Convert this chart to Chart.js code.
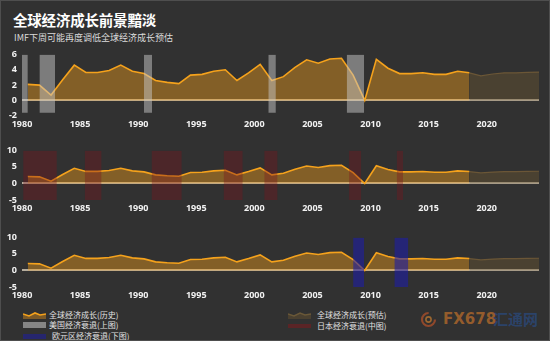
<!DOCTYPE html>
<html>
<head>
<meta charset="utf-8">
<script src="https://cdn.jsdelivr.net/npm/chart.js@4.4.1/dist/chart.umd.min.js"></script>
<style>
  html, body { margin: 0; padding: 0; background: #313131; }
  #wrap { position: relative; width: 550px; height: 341px; background: #313131;
          border: 1px solid #4e4e4e; box-sizing: border-box; overflow: hidden;
          font-family: "Noto Sans CJK SC", "Noto Sans", sans-serif; }
  canvas { position: absolute; left: -1px; }
  .title { position: absolute; left: 12px; top: 8px; font-size: 14.5px; font-weight: bold; color: #ffffff; letter-spacing: -0.2px; }
  .sub { position: absolute; left: 13px; top: 30px; font-size: 9px; color: #dcdcdc; }
  .lg { position: absolute; font-size: 8px; color: #e0e0e0; line-height: 10px; white-space: nowrap; }
  .sw { position: absolute; }
  .wm { position: absolute; top: 309px; font-weight: bold; font-size: 16px; line-height: 18px; white-space: nowrap; }
</style>
</head>
<body>
<div id="wrap">
  <div class="title">全球经济成长前景黯淡</div>
  <div class="sub">IMF下周可能再度调低全球经济成长预估</div>
  <canvas id="c1" width="550" height="90" style="top:43px"></canvas>
  <canvas id="c2" width="550" height="76" style="top:139px"></canvas>
  <canvas id="c3" width="550" height="76" style="top:226px"></canvas>

  <!-- legend -->
  <svg class="sw" style="left:22px;top:310px" width="23" height="8">
    <polygon points="0,3 6,5 12,2 17,4 23,3 23,8 0,8" fill="#7d5a27"/>
    <polyline points="0,3 6,5 12,2 17,4 23,3" fill="none" stroke="#f5a21c" stroke-width="1.6"/>
  </svg>
  <div class="lg" style="left:48px;top:309px">全球经济成长(历史)</div>
  <div class="sw" style="left:22px;top:321px;width:23px;height:6px;background:#858585"></div>
  <div class="lg" style="left:48px;top:319px">美国经济衰退(上图)</div>
  <div class="sw" style="left:22px;top:333px;width:23px;height:5px;background:#26266e"></div>
  <div class="lg" style="left:51px;top:330px">欧元区经济衰退(下图)</div>

  <svg class="sw" style="left:287px;top:311px" width="23" height="7">
    <polygon points="0,2 6,4 12,1 17,3 23,2 23,7 0,7" fill="#4a4030"/>
    <polyline points="0,2 6,4 12,1 17,3 23,2" fill="none" stroke="#6a5838" stroke-width="1.4"/>
  </svg>
  <div class="lg" style="left:316px;top:309px">全球经济成长(预估)</div>
  <div class="sw" style="left:287px;top:323px;width:23px;height:4px;background:#5a2426"></div>
  <div class="lg" style="left:316px;top:320px">日本经济衰退(中图)</div>

  <!-- watermark -->
  <svg class="sw" style="left:419px;top:310px" width="17" height="17">
    <circle cx="8.5" cy="8.5" r="6.5" fill="none" stroke="#b0502a" stroke-width="2.2" stroke-dasharray="30 12" opacity="0.75"/>
    <circle cx="8.5" cy="8.5" r="2.6" fill="none" stroke="#c07a30" stroke-width="1.6" opacity="0.75"/>
  </svg>
  <div class="wm" style="left:442px;color:#a6642c;opacity:0.85;font-family:'DejaVu Sans',sans-serif;font-size:15px;">FX678</div>
  <div class="wm" style="left:492px;color:#2b4570;opacity:0.9;font-size:15px;">汇通网</div>
</div>

<script>
// World GDP growth (%), historical 1980–2018 and projection 2018–2024
const HIST_YEARS = [1980,1981,1982,1983,1984,1985,1986,1987,1988,1989,
                    1990,1991,1992,1993,1994,1995,1996,1997,1998,1999,
                    2000,2001,2002,2003,2004,2005,2006,2007,2008,2009,
                    2010,2011,2012,2013,2014,2015,2016,2017,2018];
const HIST_GROWTH = [2.1,2.0,0.7,2.7,4.6,3.65,3.65,3.9,4.6,3.8,
                     3.5,2.6,2.35,2.2,3.3,3.4,3.8,4.0,2.6,3.6,
                     4.7,2.6,3.1,4.3,5.3,4.85,5.4,5.5,3.3,0.0,
                     5.35,4.2,3.5,3.5,3.6,3.4,3.4,3.8,3.6];
const FCST_YEARS = [2018,2019,2020,2021,2022,2023,2024];
const FCST_GROWTH = [3.6,3.2,3.45,3.6,3.6,3.65,3.7];

// Recession periods [start, end] in fractional years
const US_RECESSIONS = [[1980.0,1980.5],[1981.5,1982.85],[1990.5,1991.2],[2001.2,2001.85],[2007.95,2009.45]];
const JP_RECESSIONS = [[1980.1,1983.0],[1985.4,1986.85],[1991.15,1993.75],[1997.35,1999.0],[2000.85,2002.0],[2008.15,2009.2],[2012.25,2012.8]];
const EU_RECESSIONS = [[2008.5,2009.45],[2012.05,2013.25]];

// Axis ticks
const X_TICKS = [1980,1985,1990,1995,2000,2005,2010,2015,2020];
const Y_TICKS_TOP = [-2,0,2,4,6];
const Y_TICKS_LOWER = [-5,0,5,10];

// Annual values are plotted at mid-year
const toPoints = (years, vals) => years.map((y, i) => ({x: y + 0.5, y: vals[i]}));

function bandPoints(periods, top) {
  const pts = [];
  periods.forEach(([s, e]) => {
    pts.push({x: s, y: top}, {x: e, y: top}, {x: e, y: null});
  });
  return pts;
}

const TICK_FONT = {family: "'Noto Sans', 'DejaVu Sans', sans-serif", size: 9, weight: 'bold'};

function makePanel(id, yMin, yMax, yTicks, periods, bandColor, bandBottom, padTop, xAxisH) {
  const ctx = document.getElementById(id);
  return new Chart(ctx, {
    type: 'line',
    data: {
      datasets: [
        {
          data: bandPoints(periods, yMax),
          borderWidth: 0,
          pointRadius: 0,
          backgroundColor: bandColor,
          fill: {value: bandBottom},
          spanGaps: false,
          order: 0
        },
        {
          data: toPoints(HIST_YEARS, HIST_GROWTH),
          borderColor: '#f5a21c',
          borderWidth: 1.6,
          backgroundColor: 'rgba(245,160,26,0.42)',
          pointRadius: 0,
          fill: 'origin',
          tension: 0,
          order: 2
        },
        {
          data: toPoints(FCST_YEARS, FCST_GROWTH),
          borderColor: 'rgba(112,90,55,0.9)',
          borderWidth: 1.2,
          backgroundColor: 'rgba(110,88,50,0.42)',
          pointRadius: 0,
          fill: 'origin',
          tension: 0,
          order: 3
        }
      ]
    },
    options: {
      responsive: false,
      animation: false,
      devicePixelRatio: 1,
      layout: {padding: {top: padTop, right: 11, left: 0, bottom: 0}},
      plugins: {legend: {display: false}, tooltip: {enabled: false}},
      scales: {
        x: {
          type: 'linear',
          min: 1980,
          max: 2024.5,
          afterBuildTicks: s => { s.ticks = X_TICKS.map(v => ({value: v})); },
          afterFit: s => { s.height = xAxisH; },
          grid: {display: false, drawTicks: false},
          border: {display: false},
          ticks: {color: '#f2f2f2', font: TICK_FONT, padding: 3, maxRotation: 0, autoSkip: false,
                  callback: v => String(v)}
        },
        y: {
          min: yMin,
          max: yMax,
          afterBuildTicks: s => { s.ticks = yTicks.map(v => ({value: v})); },
          afterFit: s => { s.width = 22; },
          grid: {
            drawTicks: false,
            lineWidth: 2,
            color: c => (c.tick && c.tick.value === 0) ? 'rgba(225,215,195,0.75)' : 'rgba(0,0,0,0)'
          },
          border: {display: false},
          ticks: {color: '#f2f2f2', font: TICK_FONT, padding: 5, autoSkip: false,
                  callback: v => String(v)}
        }
      }
    }
  });
}

makePanel('c1', -2, 6, Y_TICKS_TOP, US_RECESSIONS, 'rgba(200,200,200,0.5)', -1.6, 8, 18.2);
makePanel('c2', -5, 10, Y_TICKS_LOWER, JP_RECESSIONS, 'rgba(125,20,28,0.36)', -5, 9.3, 16);
makePanel('c3', -5, 10, Y_TICKS_LOWER, EU_RECESSIONS, 'rgba(30,30,165,0.6)', -5, 9, 16);
</script>
</body>
</html>
